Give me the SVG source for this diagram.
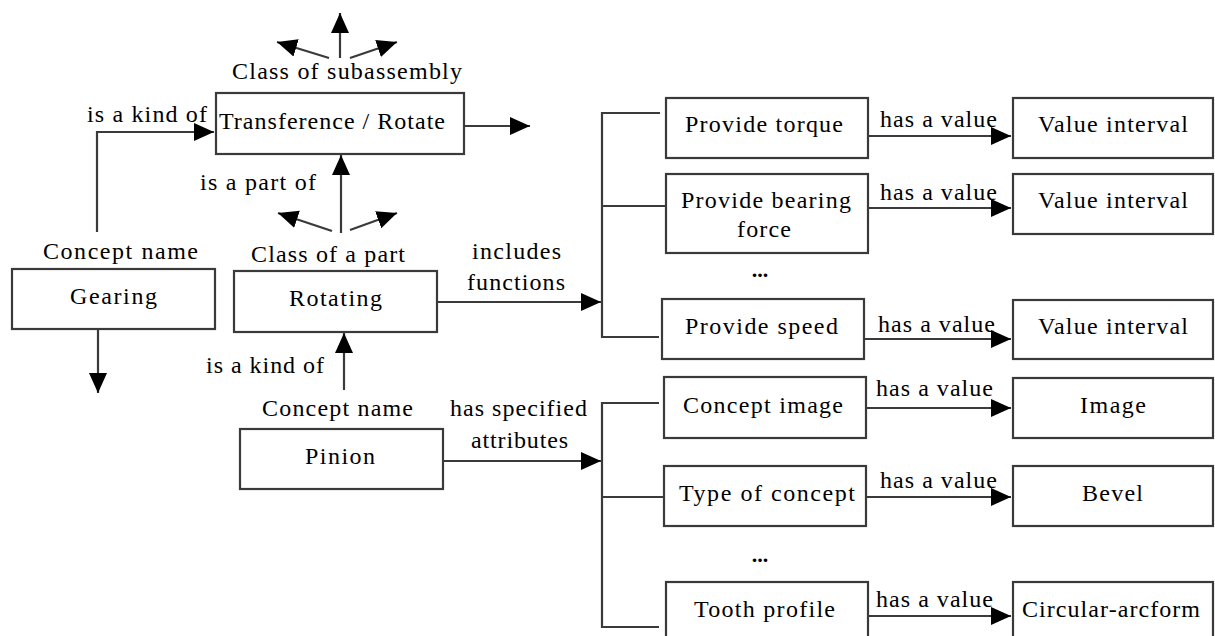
<svg xmlns="http://www.w3.org/2000/svg" width="1215" height="636" viewBox="0 0 1215 636">
<style>
  .box{fill:#fff;stroke:#3a3a3a;stroke-width:2.2}
  .ln{fill:none;stroke:#3a3a3a;stroke-width:2.2}
  .arr{fill:none;stroke:#3a3a3a;stroke-width:2.2;marker-end:url(#ah)}
  text{font-family:"Liberation Serif","Times New Roman",serif;font-size:24px;fill:#000}
  .dots{font-weight:bold;font-size:22px}
</style>
<defs>
  <marker id="ah" markerUnits="userSpaceOnUse" markerWidth="22" markerHeight="20" refX="20" refY="9" orient="auto">
    <path d="M0,0 L20,9 L0,18 z" fill="#000"/>
  </marker>
</defs>
<rect width="1215" height="636" fill="#fff"/>

<g id="connectors">
  <polyline class="arr" points="97,232 97,132 214,132"/>
  <line class="arr" x1="98" y1="329" x2="98" y2="393"/>
  <line class="arr" x1="340" y1="58" x2="340" y2="13"/>
  <line class="arr" x1="329" y1="58" x2="277" y2="42"/>
  <line class="arr" x1="350" y1="58" x2="397" y2="42"/>
  <line class="arr" x1="464" y1="126" x2="530" y2="126"/>
  <line class="arr" x1="341" y1="233" x2="341" y2="155"/>
  <line class="arr" x1="332" y1="231" x2="278" y2="213"/>
  <line class="arr" x1="350" y1="230" x2="397" y2="213"/>
  <line class="arr" x1="344" y1="390" x2="344" y2="333"/>
  <line class="arr" x1="437" y1="302" x2="601" y2="302"/>
  <polyline class="ln" points="660,113 602,113 602,337 659,337"/>
  <line class="ln" x1="602" y1="206" x2="666" y2="206"/>
  <line class="arr" x1="443" y1="461" x2="601" y2="461"/>
  <polyline class="ln" points="659,403 602,403 602,627 659,627"/>
  <line class="ln" x1="602" y1="497" x2="664" y2="497"/>
  <line class="arr" x1="868" y1="136" x2="1011" y2="136"/>
  <line class="arr" x1="868" y1="208" x2="1011" y2="208"/>
  <line class="arr" x1="864" y1="339" x2="1011" y2="339"/>
  <line class="arr" x1="866" y1="408" x2="1011" y2="408"/>
  <line class="arr" x1="866" y1="497" x2="1011" y2="497"/>
  <line class="arr" x1="868" y1="616" x2="1011" y2="616"/>
  <text x="87" y="122" textLength="120" lengthAdjust="spacing">is a kind of</text>
  <text x="200" y="190" textLength="116" lengthAdjust="spacing">is a part of</text>
  <text x="206" y="373" textLength="118" lengthAdjust="spacing">is a kind of</text>
  <text x="472" y="259" textLength="89" lengthAdjust="spacing">includes</text>
  <text x="467" y="290" textLength="98" lengthAdjust="spacing">functions</text>
  <text x="450" y="416" textLength="137" lengthAdjust="spacing">has specified</text>
  <text x="471" y="448" textLength="97" lengthAdjust="spacing">attributes</text>
  <text x="880" y="127" textLength="117" lengthAdjust="spacing">has a value</text>
  <text x="880" y="200" textLength="117" lengthAdjust="spacing">has a value</text>
  <text x="878" y="332" textLength="117" lengthAdjust="spacing">has a value</text>
  <text x="876" y="396" textLength="117" lengthAdjust="spacing">has a value</text>
  <text x="880" y="488" textLength="117" lengthAdjust="spacing">has a value</text>
  <text x="876" y="607" textLength="117" lengthAdjust="spacing">has a value</text>
</g>

<g id="labels">
  <text x="232" y="79" textLength="230" lengthAdjust="spacing">Class of subassembly</text>
  <text x="43" y="259" textLength="155" lengthAdjust="spacing">Concept name</text>
  <text x="251" y="262" textLength="154" lengthAdjust="spacing">Class of a part</text>
  <text x="262" y="416" textLength="151" lengthAdjust="spacing">Concept name</text>
  <text class="dots" x="760" y="277" text-anchor="middle">...</text>
  <text class="dots" x="760" y="562" text-anchor="middle">...</text>
</g>

<g id="node-transference">
  <rect class="box" x="216" y="93" width="248" height="61"/>
  <text x="219" y="129" textLength="226" lengthAdjust="spacing">Transference / Rotate</text>
</g>
<g id="node-gearing">
  <rect class="box" x="12" y="269" width="203" height="60"/>
  <text x="70" y="304" textLength="87" lengthAdjust="spacing">Gearing</text>
</g>
<g id="node-rotating">
  <rect class="box" x="234" y="271" width="203" height="61"/>
  <text x="289" y="306" textLength="93" lengthAdjust="spacing">Rotating</text>
</g>
<g id="node-pinion">
  <rect class="box" x="240" y="429" width="203" height="60"/>
  <text x="305" y="464" textLength="70" lengthAdjust="spacing">Pinion</text>
</g>
<g id="node-provide-torque">
  <rect class="box" x="666" y="98" width="202" height="60"/>
  <text x="685" y="132" textLength="158" lengthAdjust="spacing">Provide torque</text>
</g>
<g id="node-provide-bearing-force">
  <rect class="box" x="666" y="174" width="202" height="79"/>
  <text x="681" y="208" textLength="170" lengthAdjust="spacing">Provide bearing</text>
  <text x="737" y="237" textLength="54" lengthAdjust="spacing">force</text>
</g>
<g id="node-provide-speed">
  <rect class="box" x="662" y="299" width="202" height="60"/>
  <text x="685" y="334" textLength="153" lengthAdjust="spacing">Provide speed</text>
</g>
<g id="node-concept-image">
  <rect class="box" x="664" y="377" width="202" height="61"/>
  <text x="683" y="413" textLength="160" lengthAdjust="spacing">Concept image</text>
</g>
<g id="node-type-of-concept">
  <rect class="box" x="664" y="466" width="202" height="60"/>
  <text x="679" y="501" textLength="176" lengthAdjust="spacing">Type of concept</text>
</g>
<g id="node-tooth-profile">
  <rect class="box" x="666" y="582" width="202" height="70"/>
  <text x="694" y="617" textLength="141" lengthAdjust="spacing">Tooth profile</text>
</g>
<g id="node-value-interval-1">
  <rect class="box" x="1013" y="98" width="200" height="60"/>
  <text x="1038" y="132" textLength="150" lengthAdjust="spacing">Value interval</text>
</g>
<g id="node-value-interval-2">
  <rect class="box" x="1013" y="174" width="200" height="60"/>
  <text x="1038" y="208" textLength="150" lengthAdjust="spacing">Value interval</text>
</g>
<g id="node-value-interval-3">
  <rect class="box" x="1013" y="300" width="200" height="59"/>
  <text x="1038" y="334" textLength="150" lengthAdjust="spacing">Value interval</text>
</g>
<g id="node-image">
  <rect class="box" x="1013" y="378" width="200" height="60"/>
  <text x="1080" y="413" textLength="66" lengthAdjust="spacing">Image</text>
</g>
<g id="node-bevel">
  <rect class="box" x="1013" y="466" width="200" height="60"/>
  <text x="1082" y="501" textLength="61" lengthAdjust="spacing">Bevel</text>
</g>
<g id="node-circular-arcform">
  <rect class="box" x="1013" y="582" width="200" height="70"/>
  <text x="1022" y="617" textLength="178" lengthAdjust="spacing">Circular-arcform</text>
</g>
</svg>
